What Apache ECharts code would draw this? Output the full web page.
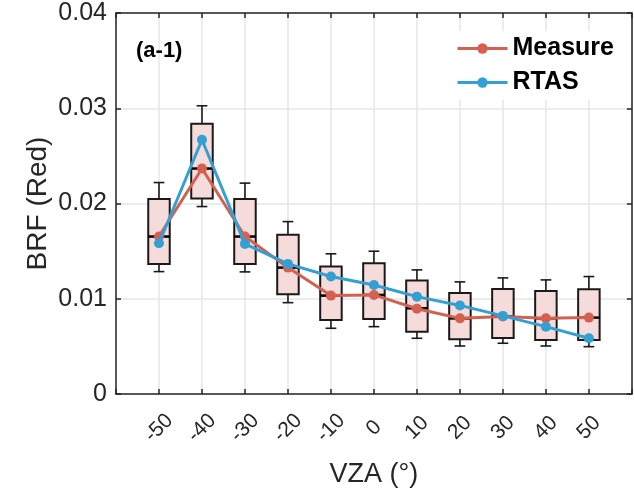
<!DOCTYPE html>
<html><head><meta charset="utf-8">
<script src="https://cdn.jsdelivr.net/npm/echarts@6/dist/echarts.min.js"></script>
<style>html,body{margin:0;padding:0;background:#fff}#c{width:634px;height:493px}</style>
</head><body><div id="c"></div>
<script>
const vza = [-50, -40, -30, -20, -10, 0, 10, 20, 30, 40, 50];
const xTickLabels = ['-50', '-40', '-30', '-20', '-10', '0', '10', '20', '30', '40', '50'];
const whiskerLow  = [0.01285, 0.01968, 0.01282, 0.00959, 0.00690, 0.00707, 0.00585, 0.00504, 0.00533, 0.00504, 0.00497];
const q1          = [0.01366, 0.02052, 0.01366, 0.01048, 0.00777, 0.00788, 0.00654, 0.00575, 0.00588, 0.00567, 0.00567];
const median      = [0.01653, 0.02367, 0.01653, 0.01327, 0.01033, 0.01040, 0.00900, 0.00794, 0.00814, 0.00795, 0.00802];
const q3          = [0.02046, 0.02837, 0.02046, 0.01671, 0.01338, 0.01373, 0.01191, 0.01061, 0.01103, 0.01082, 0.01100];
const whiskerHigh = [0.02220, 0.03026, 0.02214, 0.01810, 0.01472, 0.01499, 0.01303, 0.01177, 0.01219, 0.01198, 0.01233];
const measure     = [0.01653, 0.02367, 0.01653, 0.01327, 0.01033, 0.01040, 0.00895, 0.00794, 0.00814, 0.00795, 0.00802];
const rtas        = [0.01583, 0.02669, 0.01576, 0.01366, 0.01233, 0.01145, 0.01022, 0.00930, 0.00820, 0.00707, 0.00585];
const yTickLabels = ['0', '0.01', '0.02', '0.03', '0.04'];

const FONT = '"Liberation Sans", Arial, Helvetica, sans-serif';
const boxData = vza.map((x, i) => [x, whiskerLow[i], q1[i], median[i], q3[i], whiskerHigh[i]]);
const chart = echarts.init(document.getElementById('c'), null, {renderer: 'canvas'});
const frameColor = '#262626';
const gridColor = '#e6e6e6';
const axisCommon = {
  axisLine: {show: true, onZero: false, lineStyle: {color: frameColor, width: 1.5}},
  axisTick: {show: true, inside: true, length: 5, lineStyle: {color: frameColor, width: 1.5}}
};

const option = {
  animation: false,
  backgroundColor: '#fff',
  grid: {left: 116, top: 13, width: 519, height: 381, containLabel: false},
  textStyle: {fontFamily: FONT},
  title: {
    text: '(a-1)', left: 131, top: 35,
    textStyle: {fontFamily: FONT, fontSize: 22, fontWeight: 'bold', color: '#000'}
  },
  legend: {
    left: 451, top: 31, orient: 'vertical', itemGap: 9,
    itemWidth: 50, itemHeight: 13,
    backgroundColor: '#fff', padding: [5, 12, 5, 5],
    lineStyle: {width: 3},
    textStyle: {fontFamily: FONT, fontSize: 25, fontWeight: 'bold', color: '#000'},
    data: ['Measure', 'RTAS']
  },
  xAxis: [Object.assign({
    type: 'value', min: -60, max: 60, interval: 10, position: 'bottom',
    name: 'VZA (°)', nameLocation: 'middle', nameGap: 67, nameMoveOverlap: false,
    nameTextStyle: {fontFamily: FONT, fontSize: 27, color: '#262626'},
    axisLabel: {
      rotate: 45, margin: 34, align: 'center', verticalAlign: 'middle',
      fontFamily: FONT, fontSize: 21, color: '#262626',
      formatter: v => { const i = vza.indexOf(v); return i >= 0 ? xTickLabels[i] : ''; }
    },
    splitLine: {show: true, lineStyle: {color: gridColor, width: 1.5}}
  }, axisCommon), Object.assign({
    type: 'value', min: -60, max: 60, interval: 10, position: 'top',
    axisLabel: {show: false}, splitLine: {show: false}
  }, axisCommon)],
  yAxis: [Object.assign({
    type: 'value', min: 0, max: 0.04, interval: 0.01, position: 'left',
    name: 'BRF (Red)', nameLocation: 'middle', nameGap: 64, nameMoveOverlap: false,
    nameTextStyle: {fontFamily: FONT, fontSize: 28, color: '#262626'},
    axisLabel: {
      margin: 9, fontFamily: FONT, fontSize: 25, color: '#262626',
      formatter: v => yTickLabels[Math.round(v / 0.01)]
    },
    splitLine: {show: true, lineStyle: {color: gridColor, width: 1.5}}
  }, axisCommon), Object.assign({
    type: 'value', min: 0, max: 0.04, interval: 0.01, position: 'right',
    axisLabel: {show: false}, splitLine: {show: false}
  }, axisCommon)],
  series: [{
    type: 'custom', name: 'box', z: 2,
    data: boxData,
    encode: {x: 0, y: [1, 2, 3, 4, 5]},
    renderItem: function (params, api) {
      const x = api.value(0);
      const pLo = api.coord([x, api.value(1)]);
      const pQ1 = api.coord([x, api.value(2)]);
      const pMed = api.coord([x, api.value(3)]);
      const pQ3 = api.coord([x, api.value(4)]);
      const pHi = api.coord([x, api.value(5)]);
      const unit = api.size([10, 0])[0];
      const bw = unit * 0.5, cw = unit * 0.25;
      const cx = pMed[0];
      const ls = {stroke: '#1a1a1a', lineWidth: 1.6};
      return {type: 'group', children: [
        {type: 'line', shape: {x1: cx, y1: pHi[1], x2: cx, y2: pQ3[1]}, style: ls},
        {type: 'line', shape: {x1: cx, y1: pQ1[1], x2: cx, y2: pLo[1]}, style: ls},
        {type: 'line', shape: {x1: cx - cw / 2, y1: pHi[1], x2: cx + cw / 2, y2: pHi[1]}, style: ls},
        {type: 'line', shape: {x1: cx - cw / 2, y1: pLo[1], x2: cx + cw / 2, y2: pLo[1]}, style: ls},
        {type: 'rect', shape: {x: cx - bw / 2, y: pQ3[1], width: bw, height: pQ1[1] - pQ3[1]},
          style: {fill: '#f5dbda', stroke: '#1a1a1a', lineWidth: 2}},
        {type: 'line', shape: {x1: cx - bw / 2, y1: pMed[1], x2: cx + bw / 2, y2: pMed[1]},
          style: {stroke: '#000', lineWidth: 2.5}}
      ]};
    }
  }, {
    type: 'line', name: 'Measure', z: 3,
    data: vza.map((x, i) => [x, measure[i]]),
    symbol: 'circle', symbolSize: 10,
    lineStyle: {color: '#d4604f', width: 3},
    itemStyle: {color: '#d4604f'}
  }, {
    type: 'line', name: 'RTAS', z: 4,
    data: vza.map((x, i) => [x, rtas[i]]),
    symbol: 'circle', symbolSize: 10,
    lineStyle: {color: '#33a0d4', width: 3},
    itemStyle: {color: '#33a0d4'}
  }]
};
chart.setOption(option);
</script>
</body></html>
